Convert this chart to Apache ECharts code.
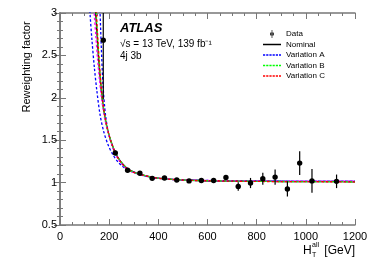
<!DOCTYPE html>
<html><head><meta charset="utf-8">
<script src="https://cdn.jsdelivr.net/npm/echarts@6/dist/echarts.min.js"></script>
<style>html,body{margin:0;padding:0;background:#fff}#c{width:374px;height:268px}</style>
</head><body><div id="c"></div>
<script>
// Data points
const dataX = [176, 225, 275, 325, 375, 425, 475, 525, 575, 625, 675, 725, 775, 825, 875, 925, 975, 1025, 1125];
const dataY = [2.68, 1.35, 1.145, 1.11, 1.05, 1.055, 1.03, 1.02, 1.025, 1.025, 1.06, 0.955, 0.995, 1.045, 1.065, 0.925, 1.23, 1.02, 1.015];
const dataErr = [0.7, 0.03, 0.015, 0.015, 0.015, 0.015, 0.015, 0.015, 0.02, 0.02, 0.03, 0.05, 0.06, 0.07, 0.09, 0.09, 0.14, 0.14, 0.08];

// Curves
const nomX = [140, 145, 150, 156, 163, 172, 182, 193, 206, 224, 244, 278, 325, 375, 425, 475, 525, 600, 700, 800, 900, 1000, 1100, 1200];
const nomY = [3.25, 3.0, 2.78, 2.5, 2.24, 1.98, 1.78, 1.63, 1.50, 1.36, 1.26, 1.16, 1.10, 1.065, 1.045, 1.035, 1.028, 1.022, 1.018, 1.015, 1.013, 1.012, 1.011, 1.01];
const varAupX = [115, 122, 130, 140, 150, 163, 178, 195, 215, 240, 275, 325, 375, 425, 475, 525, 600, 700, 800, 900, 1000, 1100, 1200];
const varAupY = [3.4, 3.0, 2.68, 2.35, 2.08, 1.8, 1.6, 1.45, 1.33, 1.23, 1.15, 1.095, 1.062, 1.045, 1.036, 1.03, 1.025, 1.021, 1.019, 1.018, 1.017, 1.016, 1.016];
const varAdnX = [160, 163, 168, 175, 185, 200, 224, 250, 280, 325, 375, 425, 475, 525, 600, 700, 800, 900, 1000, 1100, 1200];
const varAdnY = [3.2, 3.0, 2.6, 2.15, 1.8, 1.55, 1.35, 1.23, 1.15, 1.095, 1.06, 1.043, 1.033, 1.027, 1.022, 1.019, 1.017, 1.016, 1.015, 1.014, 1.014];
const varBX = [142, 147, 152, 158, 165, 173, 183, 194, 207, 224, 244, 278, 325, 375, 425, 475, 525, 600, 700, 800, 900, 1000, 1100, 1200];
const varBY = [3.2, 3.0, 2.75, 2.47, 2.2, 1.97, 1.77, 1.62, 1.49, 1.36, 1.26, 1.155, 1.098, 1.064, 1.045, 1.035, 1.028, 1.022, 1.018, 1.015, 1.013, 1.012, 1.011, 1.01];
const varCX = [143, 148, 153, 159, 166, 174, 184, 195, 208, 225, 245, 279, 325, 375, 425, 475, 525, 600, 700, 800, 900, 1000, 1100, 1200];
const varCY = [3.2, 3.0, 2.74, 2.46, 2.19, 1.96, 1.76, 1.61, 1.48, 1.35, 1.25, 1.15, 1.097, 1.063, 1.044, 1.034, 1.027, 1.021, 1.017, 1.014, 1.012, 1.011, 1.01, 1.009];
const varMX = [133, 139, 146, 153, 161, 170, 181, 193, 207, 224, 244, 278, 325, 375, 425, 475, 525, 600, 700, 800, 900, 1000, 1100, 1200];
const varMY = [3.3, 3.0, 2.72, 2.45, 2.2, 1.97, 1.77, 1.62, 1.48, 1.35, 1.25, 1.15, 1.097, 1.064, 1.046, 1.036, 1.03, 1.025, 1.021, 1.019, 1.018, 1.017, 1.016, 1.016];

const legendNames = ['Data', 'Nominal', 'Variation A', 'Variation B', 'Variation C'];
const xTicks = [0, 200, 400, 600, 800, 1000, 1200];
const yTicks = [0.5, 1, 1.5, 2, 2.5, 3];

const zip = (a, b) => a.map((v, i) => [v, b[i]]);
const FONT = 'Liberation Sans, Arial, Helvetica, sans-serif';
const frame = '#777';

function axisCommon(show, split) {
  return {
    axisLine: { show: true, lineStyle: { color: frame, width: 1.5 } },
    axisTick: { show: true, inside: true, length: 6, lineStyle: { color: frame, width: 1 } },
    minorTick: { show: true, splitNumber: split, length: 3, lineStyle: { color: frame, width: 1 } },
    splitLine: { show: false },
    axisLabel: { show: show, color: '#000', fontSize: 11, fontFamily: FONT, formatter: v => String(v) }
  };
}

const chart = echarts.init(document.getElementById('c'), null, { renderer: 'canvas' });
const dash = [2.5, 2];
function lineSeries(name, x, y, color, type, offset) {
  return {
    name: name, type: 'line', data: zip(x, y), showSymbol: false, symbol: 'none', clip: true,
    lineStyle: { color: color, width: 1.3, type: type, dashOffset: offset || 0 },
    itemStyle: { color: color }, z: 3, animation: false, smooth: 0.3
  };
}
const dashIcon = 'path://M0,0h2.2v1.5h-2.2z M3.2,0h2.2v1.5h-2.2z M6.4,0h2.2v1.5h-2.2z M9.6,0h2.2v1.5h-2.2z M12.8,0h2.2v1.5h-2.2z M16,0h2v1.5h-2z';
const solidIcon = 'path://M0,0h18v1.5h-18z';

chart.setOption({
  animation: false,
  grid: { left: 60, top: 13, right: 19, bottom: 43, containLabel: false },
  xAxis: [
    Object.assign({ type: 'value', min: xTicks[0], max: xTicks[xTicks.length - 1], interval: 200, position: 'bottom' }, axisCommon(true, 4),
      { axisLabel: { show: true, color: '#000', fontSize: 11, fontFamily: FONT, margin: 6, formatter: v => String(v) } }),
    Object.assign({ type: 'value', min: xTicks[0], max: xTicks[xTicks.length - 1], interval: 200, position: 'top' }, axisCommon(false, 4))
  ],
  yAxis: [
    Object.assign({ type: 'value', min: yTicks[0], max: yTicks[yTicks.length - 1], interval: 0.5, position: 'left' }, axisCommon(true, 5),
      { axisLabel: { show: true, color: '#000', fontSize: 11, fontFamily: FONT, margin: 3, formatter: v => String(v) } }),
    Object.assign({ type: 'value', min: yTicks[0], max: yTicks[yTicks.length - 1], interval: 0.5, position: 'right' }, axisCommon(false, 5))
  ],
  legend: {
    orient: 'vertical', left: 258, top: 25, itemWidth: 18, itemHeight: 8, itemGap: 2.5,
    textStyle: { fontSize: 8, fontFamily: FONT, color: '#000' },
    data: [
      { name: legendNames[0], icon: 'path://M4.6,0 h0.8 v10 h-0.8 z M5,2.6 a2.4,2.4 0 1,0 0.01,0 z' },
      { name: legendNames[1], icon: solidIcon },
      { name: legendNames[2], icon: dashIcon },
      { name: legendNames[3], icon: dashIcon },
      { name: legendNames[4], icon: dashIcon }
    ]
  },
  series: [
    lineSeries('Nominal', nomX, nomY, '#000', 'solid'),
    lineSeries('Variation A', varAupX, varAupY, '#0000ff', dash, 0),
    lineSeries('Variation A', varAdnX, varAdnY, '#0000ff', dash, 0),
    lineSeries('Variation M', varMX, varMY, '#ff00ff', dash, 1),
    lineSeries('Variation B', varBX, varBY, '#00ff00', dash, 2),
    lineSeries('Variation C', varCX, varCY, '#ff0000', dash, 3.5),
    {
      name: 'Data', type: 'custom', clip: true, z: 5,
      itemStyle: { color: '#000' },
      data: dataX.map((x, i) => [x, dataY[i], dataY[i] - dataErr[i], dataY[i] + dataErr[i]]),
      renderItem: function (params, api) {
        const x = api.value(0);
        const c = api.coord([x, api.value(1)]);
        const lo = api.coord([x, api.value(2)]);
        const hi = api.coord([x, api.value(3)]);
        return {
          type: 'group',
          children: [
            { type: 'line', shape: { x1: lo[0], y1: lo[1], x2: hi[0], y2: hi[1] }, style: { stroke: '#000', lineWidth: 1.2 } },
            { type: 'circle', shape: { cx: c[0], cy: c[1], r: 2.7 }, style: { fill: '#000' } }
          ]
        };
      }
    }
  ],
  graphic: [
    { type: 'text', x: 120, y: 28, style: { text: 'ATLAS', font: 'italic bold 13px ' + FONT, fill: '#000', verticalAlign: 'middle' } },
    { type: 'text', x: 120, y: 44, style: { text: '√s = 13 TeV, 139 fb⁻¹', font: '10px ' + FONT, fill: '#000', verticalAlign: 'middle' } },
    { type: 'text', x: 120, y: 56, style: { text: '4j 3b', font: '10px ' + FONT, fill: '#000', verticalAlign: 'middle' } },
    { type: 'text', x: 27, y: 67, rotation: Math.PI / 2, style: { text: 'Reweighting factor', font: '11px ' + FONT, fill: '#000', align: 'center', verticalAlign: 'middle' } },
    { type: 'text', x: 303, y: 251, style: { text: 'H', font: '12px ' + FONT, fill: '#000', verticalAlign: 'middle' } },
    { type: 'text', x: 312, y: 245, style: { text: 'all', font: '7px ' + FONT, fill: '#000', verticalAlign: 'middle' } },
    { type: 'text', x: 312, y: 255, style: { text: 'T', font: '7px ' + FONT, fill: '#000', verticalAlign: 'middle' } },
    { type: 'text', x: 355, y: 251, style: { text: '[GeV]', font: '12px ' + FONT, fill: '#000', align: 'right', verticalAlign: 'middle' } }
  ]
});
</script>
</body></html>
